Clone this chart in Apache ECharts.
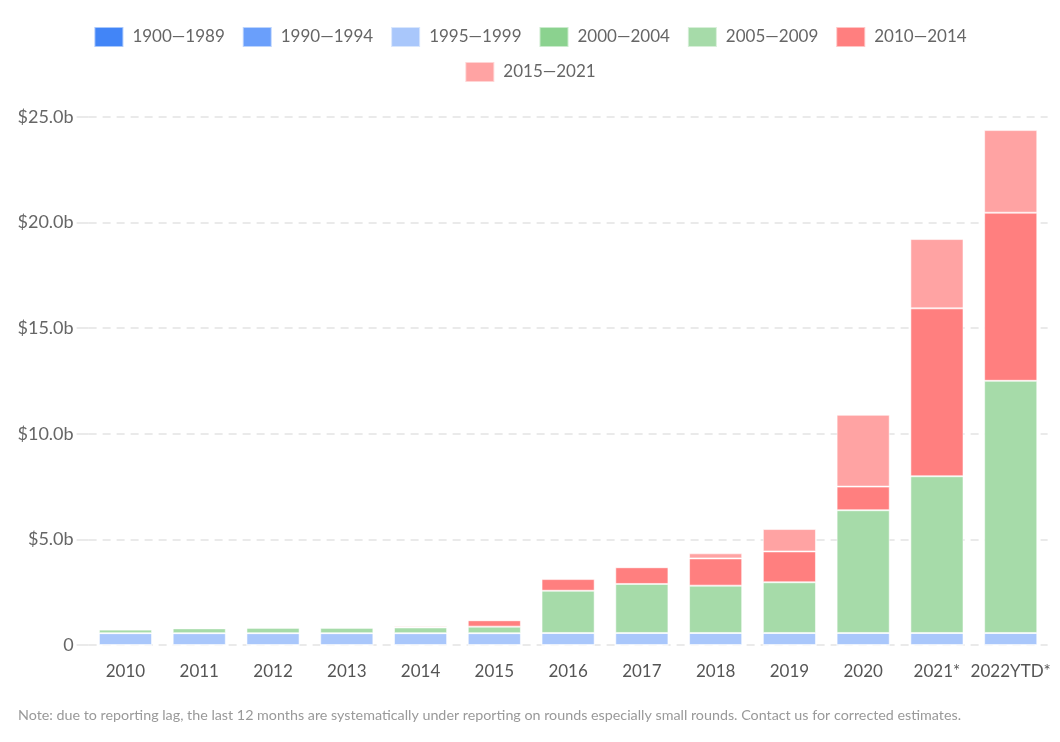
<!DOCTYPE html>
<html>
<head>
<meta charset="utf-8">
<script src="https://cdn.jsdelivr.net/npm/echarts@6/dist/echarts.min.js"></script>
<style>
html,body{margin:0;padding:0;background:#fff;}
#c{width:1060px;height:742px;}
</style>
</head>
<body>
<div id="c"></div>
<script>
const categories = ['2010','2011','2012','2013','2014','2015','2016','2017','2018','2019','2020','2021*','2022YTD*'];
const seriesNames = ['1900—1989','1990—1994','1995—1999','2000—2004','2005—2009','2010—2014','2015—2021'];
const seriesColors = ['#4285f7','#6a9ffb','#a9c7fb','#8bd28f','#a6dba9','#ff7f7f','#ffa3a3'];
const v1900_1989 = [0,0,0,0,0,0,0,0,0,0,0,0,0];
const v1990_1994 = [0,0,0,0,0,0,0,0,0,0,0,0,0];
const v1995_1999 = [0.56,0.56,0.56,0.56,0.56,0.56,0.57,0.57,0.57,0.57,0.57,0.57,0.57];
const v2000_2004 = [0,0,0,0,0,0,0,0,0,0,0,0,0];
const v2005_2009 = [0.17,0.23,0.26,0.26,0.27,0.31,2.0,2.32,2.24,2.40,5.81,7.42,11.94];
const v2010_2014 = [0,0,0,0,0.07,0.30,0.55,0.79,1.29,1.46,1.12,7.95,7.96];
const v2015_2021 = [0,0,0,0,0,0.02,0.05,0.04,0.24,1.06,3.40,3.28,3.91];
const yTicks = [0,5,10,15,20,25];
const note = 'Note: due to reporting lag, the last 12 months are systematically under reporting on rounds especially small rounds. Contact us for corrected estimates.';

const values = [v1900_1989,v1990_1994,v1995_1999,v2000_2004,v2005_2009,v2010_2014,v2015_2021];
const FONT = 'Lato, "Open Sans", sans-serif';
const chart = echarts.init(document.getElementById('c'), null, {renderer:'canvas'});
const legendCommon = {
  left:'center', itemWidth:29, itemHeight:20, itemGap:17,
  textStyle:{fontFamily:FONT, fontSize:17, color:'#666', padding:[0,0,0,4]},
  icon:'rect'
};
chart.setOption({
  animation:false,
  textStyle:{fontFamily:FONT},
  legend:[
    Object.assign({top:21, data:seriesNames.slice(0,6)}, legendCommon),
    Object.assign({top:56, data:seriesNames.slice(6)}, legendCommon)
  ],
  grid:{left:88.6, right:12.4, top:117, bottom:97, containLabel:false},
  graphic:[{type:'text', left:18, top:708, style:{text:note, fill:'#999', font:'14.3px '+FONT}}],
  xAxis:{
    type:'category', data:categories,
    axisLine:{show:false}, axisTick:{show:false},
    axisLabel:{color:'#555', fontSize:17, margin:18, fontFamily:FONT, interval:0}
  },
  yAxis:{
    type:'value', min:0, max:yTicks[yTicks.length-1], interval:5,
    axisLine:{show:false},
    axisTick:{show:true, length:12, lineStyle:{color:'#e3e3e3', width:1.5}},
    axisLabel:{color:'#666', fontSize:18, margin:15, fontFamily:FONT,
      formatter:v => v===0 ? '0' : '$'+v.toFixed(1)+'b'},
    splitLine:{lineStyle:{color:'#e3e3e3', width:1.5, type:[8,6]}}
  },
  series: seriesNames.map((n,i)=>({
    name:n, type:'bar', stack:'total', barWidth:'72%',
    data: values[i],
    itemStyle:{color:seriesColors[i], borderColor:'rgba(255,255,255,0.55)', borderWidth:1}
  }))
});
</script>
</body>
</html>
